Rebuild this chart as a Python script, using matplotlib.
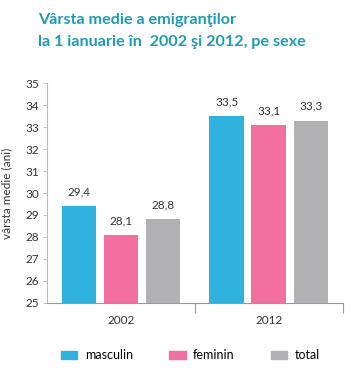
import matplotlib
matplotlib.use("Agg")
import matplotlib.pyplot as plt
from matplotlib.patches import Patch
import numpy as np

plt.rcParams['font.family'] = ['Lato', 'DejaVu Sans']

years = ["2002", "2012"]
series = ["masculin", "feminin", "total"]
masculin = [29.4, 33.5]
feminin = [28.1, 33.1]
total = [28.8, 33.3]
colors = ["#2fb2de", "#f26fa0", "#b1b1b4"]
yticks = list(range(25, 36))

fig = plt.figure(figsize=(3.51, 3.68), dpi=100)
ax = fig.add_axes([0.134, 0.177, 0.843, 0.597])

x = np.arange(len(years))
w = 0.236
off = 0.284
for i, (vals, c) in enumerate(zip([masculin, feminin, total], colors)):
    pos = x + (i - 1) * off
    ax.bar(pos, [v - 25 for v in vals], bottom=25, width=w, color=c, label=series[i])
    for p, v in zip(pos, vals):
        ax.text(p, v + 0.4, f"{v:.1f}".replace(".", ","), ha="center", va="bottom",
                fontsize=8.5, color="#333333")

ax.set_xlim(-0.5, 1.5)
ax.set_ylim(25, 35)
ax.set_yticks(yticks)
ax.set_yticklabels([str(t) for t in yticks], fontsize=8.5, color="#333333")
ax.set_xticks(x)
ax.set_xticklabels(years, fontsize=8.5, color="#333333")
ax.tick_params(axis="x", length=0, pad=9)
ax.set_xticks([0.5, 1.5], minor=True)
ax.tick_params(axis="x", which="minor", length=7, color="#999999", width=0.8)
ax.tick_params(axis="y", length=3, color="#bbbbbb", width=0.6, pad=3)
for s in ["top", "right"]:
    ax.spines[s].set_visible(False)
ax.spines["left"].set_color("#bbbbbb")
ax.spines["left"].set_linewidth(0.8)
ax.spines["bottom"].set_color("#999999")
ax.spines["bottom"].set_linewidth(0.8)
ax.set_ylabel("vârsta medie (ani)", fontsize=8.5, color="#333333", labelpad=9)

fig.text(0.108, 0.945, "Vârsta medie a emigranţilor", fontsize=11.6, fontweight="bold",
         color="#1f9bb6", ha="left", va="center")
fig.text(0.108, 0.885, "la 1 ianuarie în  2002 şi 2012, pe sexe", fontsize=11.6, fontweight="bold",
         color="#1f9bb6", ha="left", va="center")

handles = [Patch(color=c) for c in colors]
fig.legend(handles, series, loc="center", bbox_to_anchor=(0.543, 0.035), ncol=3,
           frameon=False, fontsize=9, handlelength=1.3, handleheight=0.6,
           columnspacing=2.9, handletextpad=0.6)

fig.savefig("out.png", dpi=100)
